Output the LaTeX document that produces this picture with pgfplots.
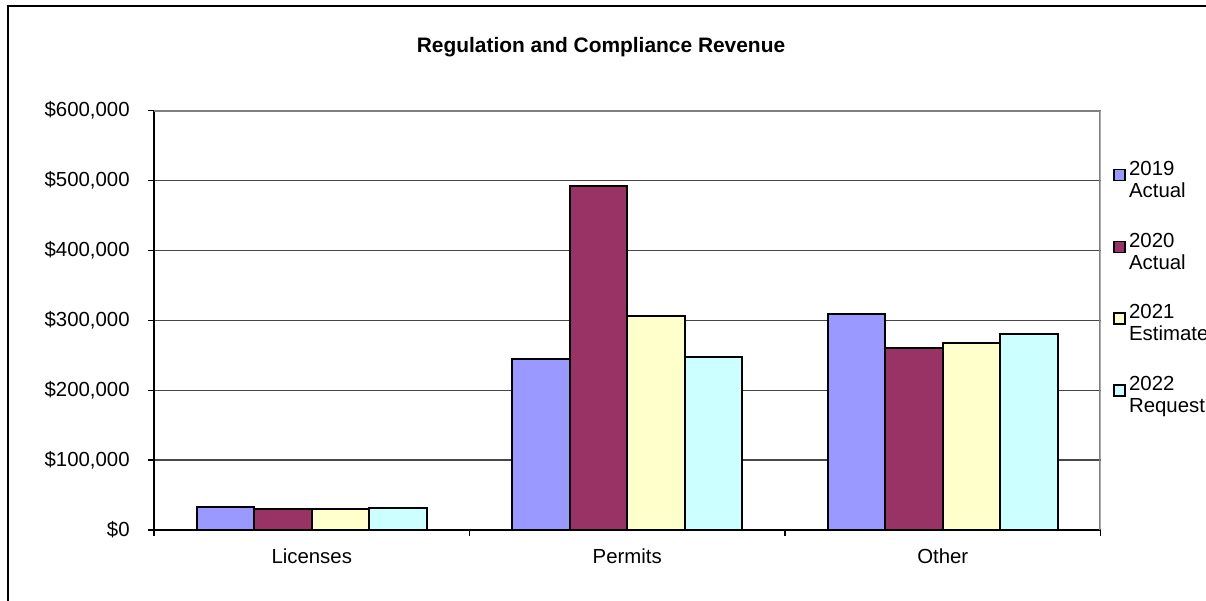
\documentclass[border=0pt]{standalone}
\usepackage{fontspec}
\setmainfont{Liberation Sans}
\usepackage{pgfplots}
\pgfplotsset{compat=1.18}
\definecolor{cA}{HTML}{9999FF}
\definecolor{cB}{HTML}{993366}
\definecolor{cC}{HTML}{FFFFCC}
\definecolor{cD}{HTML}{CCFFFF}
\pgfplotsset{mylegend/.style={legend image code/.code={\draw[##1, line width=0.9pt] (0cm,0cm) rectangle (0.22cm,0.22cm); \path (0.28cm,0cm);}}}
\begin{document}
\begin{tikzpicture}
\clip (0,0) rectangle (24.12,12);
\draw[line width=0.9pt] (0.16,-1) -- (0.16,11.88) -- (25,11.88);
\node[font=\bfseries\fontsize{11.9}{14}\selectfont] at (12.02,11.06) {Regulation and Compliance Revenue};
\begin{axis}[
 at={(3.08cm,1.4cm)}, anchor=south west, width=18.93cm, height=8.39cm, scale only axis,
 ymin=0, ymax=600000, ytick={0,100000,200000,300000,400000,500000,600000},
 scaled y ticks=false,
 xmin=-0.5, xmax=2.5,
 xtick={-0.5,0.5,1.5,2.5}, xticklabels={},
 extra x ticks={0,1,2}, extra x tick labels={Licenses,Permits,Other},
 extra x tick style={major tick length=0pt, grid=none},
 ybar=0pt, bar width=1.15cm,
 axis x line*=bottom, axis y line*=left, axis line style={-, black, line width=0.8pt},
 tick align=outside, major tick length=0.12cm, tick style={black, line width=0.7pt},
 ymajorgrids, grid style={black!72, line width=0.7pt},
 /pgf/number format/assume math mode=true,
 yticklabel={\$\pgfmathprintnumber[fixed,1000 sep={,}]{\tick}},
 tick label style={font=\fontsize{11.6}{13}\selectfont},
 yticklabel style={inner sep=0pt, xshift=-0.36cm},
 xticklabel style={inner sep=0pt, anchor=north, yshift=-0.36cm},
 legend style={draw=none, fill=none, at={(1.0132,0.88)}, anchor=north west, inner sep=0pt, row sep=0.66cm,
   nodes={inner sep=0pt, align=left, font=\fontsize{11.6}{12.47}\selectfont}},
 legend cell align=left,
]
\addplot[fill=cA, draw=black, line width=1.1pt, mylegend] coordinates {(0,32400) (1,244700) (2,308600)};
\addlegendentry{2019\\Actual}
\addplot[fill=cB, draw=black, line width=1.1pt, mylegend] coordinates {(0,29600) (1,492300) (2,260000)};
\addlegendentry{2020\\Actual}
\addplot[fill=cC, draw=black, line width=1.1pt, mylegend] coordinates {(0,29600) (1,306600) (2,267600)};
\addlegendentry{2021\\Estimate}
\addplot[fill=cD, draw=black, line width=1.1pt, mylegend] coordinates {(0,31400) (1,247600) (2,280000)};
\addlegendentry{2022\\Request}
\draw[black!50, line width=1.2pt] (rel axis cs:0,1) -- (rel axis cs:1,1) -- (rel axis cs:1,0);
\end{axis}
\end{tikzpicture}
\end{document}
